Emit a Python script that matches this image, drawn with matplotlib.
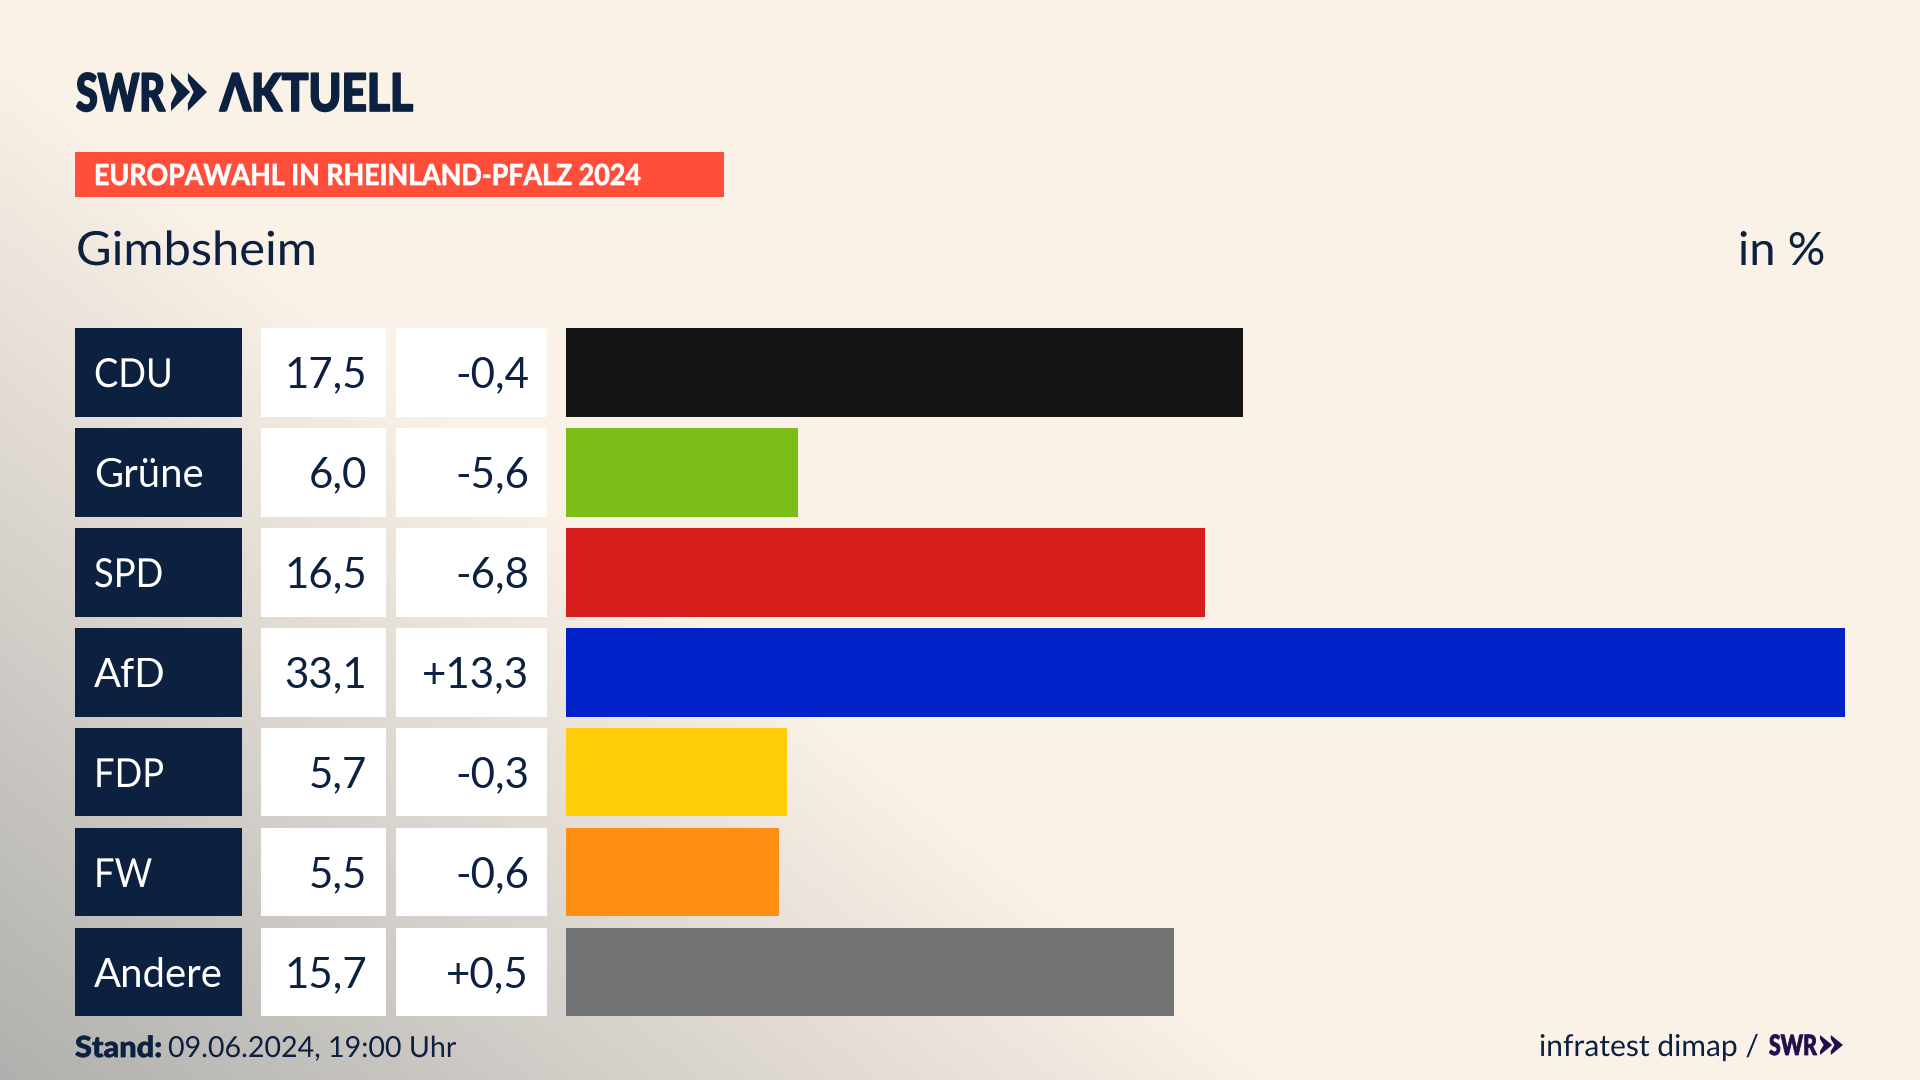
import matplotlib
matplotlib.use("Agg")
import matplotlib.pyplot as plt
import matplotlib.patheffects as pe
from matplotlib.transforms import Affine2D
import numpy as np

# data
parties = ["CDU", "Grüne", "SPD", "AfD", "FDP", "FW", "Andere"]
shares = [17.5, 6.0, 16.5, 33.1, 5.7, 5.5, 15.7]
changes = [-0.4, -5.6, -6.8, 13.3, -0.3, -0.6, 0.5]
bar_colors = ["#141414", "#7BBE19", "#D61F1C", "#0022C8", "#FFCC0A", "#FF8F14", "#727375"]

NAVY = "#0C2040"
RED = "#FF4F3B"
PURPLE = "#1F0F4D"
TEXT_FONT = ["Lato", "DejaVu Sans"]
ROW_H = [89, 89, 89, 89, 88, 88, 88]  # pixels, the upper rows are a pixel taller


class Squeeze(pe.AbstractPathEffect):
    # scales a text horizontally about its left end, the text stays a real text
    def __init__(self, sx, heavy=0):
        super().__init__()
        self.sx = sx
        self.heavy = heavy

    def draw_path(self, renderer, gc, tpath, affine, rgbFace=None):
        ox = affine.get_matrix()[0, 2]
        squeezed = affine + Affine2D().translate(-ox, 0).scale(self.sx, 1).translate(ox, 0)
        gc0 = renderer.new_gc()
        gc0.copy_properties(gc)
        gc0.set_linewidth(self.heavy)
        if self.heavy:
            gc0.set_foreground(rgbFace)
        renderer.draw_path(gc0, tpath, squeezed, rgbFace)
        gc0.restore()


def px(size):
    # font size given in pixels at dpi 100
    return size * 0.72


def de(value, sign=False):
    s = f"{value:+.1f}" if sign else f"{value:.1f}"
    return s.replace(".", ",")


def fit_text(ax, x, base, s, width, heavy=0, **kw):
    # left aligned text, squeezed to the given width in pixels
    t = ax.text(x, base, s, va="baseline", family=TEXT_FONT, **kw)
    ext = t.get_window_extent(fig.canvas.get_renderer())
    t.set_path_effects([Squeeze(width / ext.width, heavy)])
    return t


def chevrons(ax, x0, y0, w, h, color):
    # the two arrows of the SWR logo
    one = w * 0.53
    ym = y0 + h / 2
    for x in (x0, x0 + w - one):
        ax.fill([x, x + one, x, x, x + one * 0.3, x],
                [y0, ym, y0 + h, ym + h * 0.3, ym, ym - h * 0.3],
                color=color, lw=0)


fig = plt.figure(figsize=(19.2, 10.8), dpi=100)

# background and layout axes, in pixels
bg = fig.add_axes([0, 0, 1, 1])
bg.set_xlim(0, 1920)
bg.set_ylim(1080, 0)
bg.axis("off")

X, Y = np.meshgrid(np.linspace(0, 1920, 480), np.linspace(0, 1080, 270))
s = np.clip((Y - 60 - 0.8 * X) / 1020, 0, 1)
cream = np.array([250, 241, 231]) / 255
gray = np.array([176, 176, 174]) / 255
grad = cream[None, None, :] * (1 - s[..., None]) + gray[None, None, :] * s[..., None]
bg.imshow(grad, extent=(0, 1920, 1080, 0), aspect="auto", zorder=0)

# header
fit_text(bg, 76, 111, "SWR", 89, heavy=1.2, weight="black", fontsize=px(52), color=NAVY)
chevrons(bg, 171, 73, 36, 38, NAVY)
fit_text(bg, 220, 111, "ΛKTUELL", 193, heavy=1.2, weight="black", fontsize=px(52), color=NAVY)

bg.add_patch(plt.Rectangle((75, 152), 649, 45, facecolor=RED, lw=0))
fit_text(bg, 94, 185, "EUROPAWAHL IN RHEINLAND-PFALZ 2024", 548, heavy=0.5, weight="bold",
         fontsize=px(29), color="white")

fit_text(bg, 76, 265, "Gimbsheim", 241, fontsize=px(47), color=NAVY)
bg.text(1825, 265, "in %", family=TEXT_FONT, fontsize=px(47), color=NAVY, va="baseline", ha="right")

# table columns
for i, party in enumerate(parties):
    top = 328 + i * 100
    base = top + 59
    bg.add_patch(plt.Rectangle((75, top), 167, ROW_H[i], facecolor=NAVY, lw=0))
    bg.add_patch(plt.Rectangle((261, top), 125, ROW_H[i], facecolor="white", lw=0))
    bg.add_patch(plt.Rectangle((396, top), 151, ROW_H[i], facecolor="white", lw=0))
    label = bg.text(94, base, party, family=TEXT_FONT, fontsize=px(40), color="white", va="baseline")
    if party.isupper():
        label.set_path_effects([Squeeze(0.91)])
    bg.text(367, base, de(shares[i]), family=TEXT_FONT, fontsize=px(42), color=NAVY,
            va="baseline", ha="right")
    bg.text(529, base, de(changes[i], sign=changes[i] > 0), family=TEXT_FONT, fontsize=px(42),
            color=NAVY, va="baseline", ha="right")

# bars, the AfD bar ends at the right edge of the axes
ax = fig.add_axes([566 / 1920, 1 - 1016 / 1080, (1845 - 566) / 1920, (1016 - 328) / 1080])
ax.patch.set_alpha(0)
rows = np.arange(len(parties))
ax.barh(rows - 0.44, shares, height=np.array(ROW_H) / 100, color=bar_colors, align="edge")
ax.set_xlim(0, 33.05)
ax.set_ylim(6.44, -0.44)
ax.axis("off")

# footer
fit_text(bg, 75, 1057, "Stand:", 87, heavy=0.5, weight="black", fontsize=px(29), color=NAVY)
fit_text(bg, 168, 1057, "09.06.2024, 19:00 Uhr", 288, fontsize=px(29), color=NAVY)
fit_text(bg, 1539, 1056, "infratest dimap /", 220, fontsize=px(30), color=NAVY)
fit_text(bg, 1769, 1055, "SWR", 48, heavy=0.6, weight="black", fontsize=px(28), color=PURPLE)
chevrons(bg, 1820, 1035, 23, 20, PURPLE)

fig.savefig("out.png", dpi=100)
